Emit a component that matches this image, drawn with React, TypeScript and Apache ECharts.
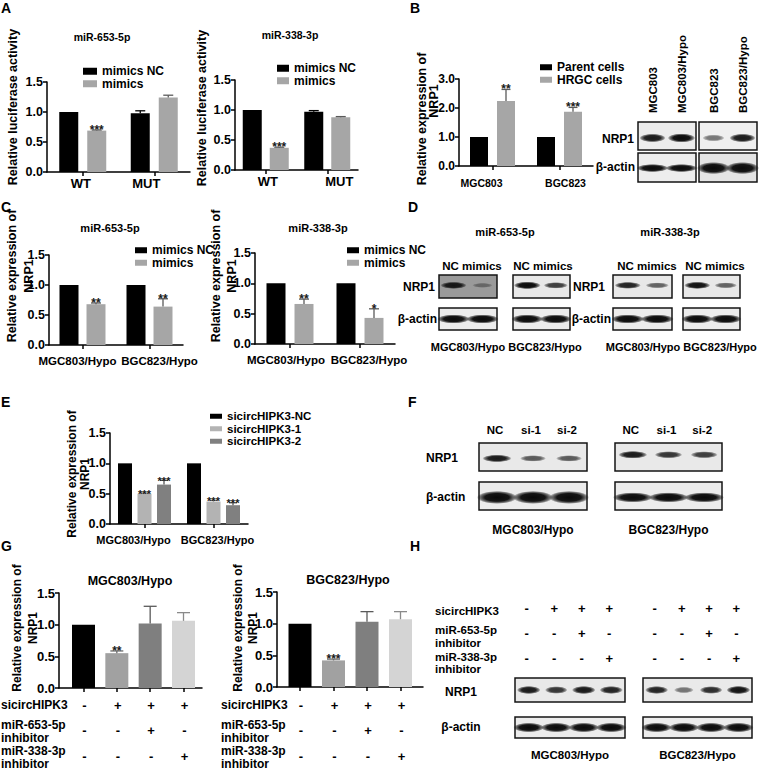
import React, { useEffect, useRef } from 'react';
import * as echarts from 'echarts';

const FONT = '"Liberation Sans", Arial, Helvetica, sans-serif';

// ================= DATA =================
// Panel A – luciferase reporter activity
const lucCategories = ['WT', 'MUT'];
const luc653NC = [1.0, 0.98];
const luc653NCErr = [0, 0.04];
const luc653NCStars = ['', ''];
const luc653Mimics = [0.69, 1.24];
const luc653MimicsErr = [0.01, 0.04];
const luc653MimicsStars = ['***', ''];
const luc338NC = [1.0, 0.97];
const luc338NCErr = [0, 0.02];
const luc338NCStars = ['', ''];
const luc338Mimics = [0.37, 0.88];
const luc338MimicsErr = [0.01, 0.01];
const luc338MimicsStars = ['***', ''];

// Panel B – NRP1 in parent vs HRGC cells
const cellCategories = ['MGC803', 'BGC823'];
const parentValues = [1.0, 1.0];
const parentErr = [0, 0];
const parentStars = ['', ''];
const hrgcValues = [2.24, 1.87];
const hrgcErr = [0.4, 0.15];
const hrgcStars = ['**', '***'];

// Panel C – NRP1 after mimics
const hypoCategories = ['MGC803/Hypo', 'BGC823/Hypo'];
const c653NC = [1.0, 1.0];
const c653NCErr = [0, 0];
const c653NCStars = ['', ''];
const c653Mimics = [0.68, 0.64];
const c653MimicsErr = [0.02, 0.13];
const c653MimicsStars = ['**', '**'];
const c338NC = [1.0, 1.0];
const c338NCErr = [0, 0];
const c338NCStars = ['', ''];
const c338Mimics = [0.66, 0.43];
const c338MimicsErr = [0.08, 0.15];
const c338MimicsStars = ['**', '*'];

// Panel E – NRP1 after sicircHIPK3
const eNC = [1.0, 1.0];
const eNCErr = [0, 0];
const eNCStars = ['', ''];
const eSi1 = [0.5, 0.37];
const eSi1Err = [0.01, 0.02];
const eSi1Stars = ['***', '***'];
const eSi2 = [0.65, 0.31];
const eSi2Err = [0.07, 0.04];
const eSi2Stars = ['***', '***'];

// Panel G – rescue
const rescueGroups = [0, 1, 2, 3];
const gMgc = [1.0, 0.55, 1.02, 1.06];
const gMgcErr = [0, 0.035, 0.27, 0.13];
const gMgcStars = ['', '**', '', ''];
const gBgc = [1.0, 0.42, 1.03, 1.07];
const gBgcErr = [0, 0.02, 0.16, 0.12];
const gBgcStars = ['', '***', '', ''];
const rowSicirc = ['-', '+', '+', '+'];
const row653Inh = ['-', '-', '+', '-'];
const row338Inh = ['-', '-', '-', '+'];

// Western blot band intensities (0..1)
const blotBLanes = ['MGC803', 'MGC803/Hypo', 'BGC823', 'BGC823/Hypo'];
const blotBNRP1 = [0.85, 1.0, 0.35, 0.85];
const blotBActin = [1, 1, 1, 1];
const blotD653NRP1 = [0.85, 0.15, 1.0, 0.65];
const blotD338NRP1 = [0.8, 0.45, 0.9, 0.45];
const blotDActin = [1, 1, 1, 1];
const blotFLanes = ['NC', 'si-1', 'si-2'];
const blotFNRP1 = [0.85, 0.5, 0.5, 0.85, 0.7, 0.65];
const blotFActin = [1, 1, 1, 1, 1, 1];
const blotHNRP1 = [0.85, 0.7, 0.85, 0.8, 0.8, 0.35, 0.75, 0.9];
const blotHActin = [1, 1, 1, 1, 1, 1, 1, 1];

// ================= STYLE =================
const BLACK = '#000000';
const GRAY = '#a6a6a6';
const GRAY_ERR = '#5a5a5a';
const SI1 = '#b3b3b3';
const SI2 = '#808080';
const G_COLORS = ['#000000', '#a1a1a1', '#7f7f7f', '#d4d4d4'];
const G_ERR = ['#000000', '#6a6a6a', '#5a5a5a', '#8a8a8a'];

type Ser = { name: string; values: number[]; errs: number[]; stars: string[]; color: any; errColor: any };
type Spec = {
  left: number; top: number; width: number; height: number;
  categories: any[]; valueX?: { min: number; max: number };
  yMax: number; yInterval: number; series: Ser[];
  barWidth: number; barGapPx: number; tickFont: number; xFont: number; xMargin: number; showX: boolean;
  labelShift?: number[];
  starFont: number; capHalf: number; starDy: number;
  legend?: { left: number; top: number; iw: number; ih: number; lh: number; fs: number };
};

const specs: Spec[] = [
  { // A left
    left: 47, top: 82, width: 143, height: 90, categories: lucCategories, yMax: 1.5, yInterval: 0.5,
    series: [
      { name: 'mimics NC', values: luc653NC, errs: luc653NCErr, stars: luc653NCStars, color: BLACK, errColor: BLACK },
      { name: 'mimics', values: luc653Mimics, errs: luc653MimicsErr, stars: luc653MimicsStars, color: GRAY, errColor: GRAY_ERR },
    ],
    barWidth: 19, barGapPx: 9, tickFont: 12.5, xFont: 13, xMargin: 5, showX: true, labelShift: [-2, -8],
    starFont: 12, capHalf: 5, starDy: 6,
    legend: { left: 83, top: 65, iw: 14, ih: 7, lh: 12.5, fs: 12 },
  },
  { // A right
    left: 235, top: 80, width: 123, height: 90, categories: lucCategories, yMax: 1.5, yInterval: 0.5,
    series: [
      { name: 'mimics NC', values: luc338NC, errs: luc338NCErr, stars: luc338NCStars, color: BLACK, errColor: BLACK },
      { name: 'mimics', values: luc338Mimics, errs: luc338MimicsErr, stars: luc338MimicsStars, color: GRAY, errColor: GRAY_ERR },
    ],
    barWidth: 19, barGapPx: 8, tickFont: 12.5, xFont: 13, xMargin: 5, showX: true, labelShift: [2, 12],
    starFont: 12, capHalf: 5, starDy: 6,
    legend: { left: 277, top: 62, iw: 12, ih: 7, lh: 12.5, fs: 12 },
  },
  { // B
    left: 459, top: 79, width: 134, height: 87, categories: cellCategories, yMax: 3, yInterval: 1,
    series: [
      { name: 'Parent cells', values: parentValues, errs: parentErr, stars: parentStars, color: BLACK, errColor: BLACK },
      { name: 'HRGC cells', values: hrgcValues, errs: hrgcErr, stars: hrgcStars, color: GRAY, errColor: GRAY_ERR },
    ],
    barWidth: 18, barGapPx: 9, tickFont: 12, xFont: 10.5, xMargin: 11, showX: true, labelShift: [-11, 6],
    starFont: 12, capHalf: 4.5, starDy: 6,
    legend: { left: 540, top: 61, iw: 12, ih: 6, lh: 12.5, fs: 12 },
  },
  { // C left
    left: 49, top: 255, width: 134, height: 90, categories: hypoCategories, yMax: 1.5, yInterval: 0.5,
    series: [
      { name: 'mimics NC', values: c653NC, errs: c653NCErr, stars: c653NCStars, color: BLACK, errColor: BLACK },
      { name: 'mimics', values: c653Mimics, errs: c653MimicsErr, stars: c653MimicsStars, color: GRAY, errColor: GRAY_ERR },
    ],
    barWidth: 19, barGapPx: 8, tickFont: 12.5, xFont: 11.5, xMargin: 10, showX: true, labelShift: [-5, 10],
    starFont: 12, capHalf: 5, starDy: 6,
    legend: { left: 135, top: 244, iw: 12, ih: 6, lh: 12.5, fs: 12 },
  },
  { // C right
    left: 255, top: 253, width: 140, height: 91, categories: hypoCategories, yMax: 1.5, yInterval: 0.5,
    series: [
      { name: 'mimics NC', values: c338NC, errs: c338NCErr, stars: c338NCStars, color: BLACK, errColor: BLACK },
      { name: 'mimics', values: c338Mimics, errs: c338MimicsErr, stars: c338MimicsStars, color: GRAY, errColor: GRAY_ERR },
    ],
    barWidth: 19, barGapPx: 9, tickFont: 12.5, xFont: 11.5, xMargin: 10, showX: true, labelShift: [-4, 9],
    starFont: 12, capHalf: 5, starDy: 6,
    legend: { left: 347, top: 244, iw: 12, ih: 6, lh: 12.5, fs: 12 },
  },
  { // E
    left: 110, top: 433, width: 138, height: 91, categories: hypoCategories, yMax: 1.5, yInterval: 0.5,
    series: [
      { name: 'sicircHIPK3-NC', values: eNC, errs: eNCErr, stars: eNCStars, color: BLACK, errColor: BLACK },
      { name: 'sicircHIPK3-1', values: eSi1, errs: eSi1Err, stars: eSi1Stars, color: SI1, errColor: '#777777' },
      { name: 'sicircHIPK3-2', values: eSi2, errs: eSi2Err, stars: eSi2Stars, color: SI2, errColor: '#555555' },
    ],
    barWidth: 14, barGapPx: 5.5, tickFont: 12.5, xFont: 11, xMargin: 10, showX: true, labelShift: [-11, 4],
    starFont: 11, capHalf: 4, starDy: 6,
    legend: { left: 210, top: 410, iw: 12, ih: 5, lh: 12.5, fs: 11.5 },
  },
  { // G left
    left: 59, top: 593, width: 143, height: 95, categories: rescueGroups, valueX: { min: -0.735, max: 3.555 },
    yMax: 1.5, yInterval: 0.5,
    series: [
      { name: 'MGC803/Hypo rescue', values: gMgc, errs: gMgcErr, stars: gMgcStars, color: G_COLORS, errColor: G_ERR },
    ],
    barWidth: 23, barGapPx: 0, tickFont: 13, xFont: 12, xMargin: 5, showX: false, starFont: 12, capHalf: 6.5, starDy: 6,
  },
  { // G right
    left: 277, top: 592, width: 146, height: 95, categories: rescueGroups, valueX: { min: -0.687, max: 3.672 },
    yMax: 1.5, yInterval: 0.5,
    series: [
      { name: 'BGC823/Hypo rescue', values: gBgc, errs: gBgcErr, stars: gBgcStars, color: G_COLORS, errColor: G_ERR },
    ],
    barWidth: 23, barGapPx: 0, tickFont: 13, xFont: 12, xMargin: 5, showX: false, starFont: 12, capHalf: 6.5, starDy: 6,
  },
];

function errorSeries(k: number, ser: Ser, offset: number, s: Spec) {
  return {
    type: 'custom',
    name: ser.name + ' SEM',
    xAxisIndex: k,
    yAxisIndex: k,
    z: 4,
    silent: true,
    data: ser.values.map((v, i) => [i, v, ser.errs[i]]),
    encode: { x: 0, y: 1 },
    renderItem: (params: any, api: any) => {
      const i = params.dataIndex;
      const v = api.value(1);
      const e = api.value(2);
      const p0 = api.coord([api.value(0), v]);
      const p1 = api.coord([api.value(0), v + e]);
      const x = p0[0] + offset;
      const col = Array.isArray(ser.errColor) ? ser.errColor[i] : ser.errColor;
      const ch: any[] = [];
      if (e > 0) {
        ch.push({ type: 'line', shape: { x1: x, y1: p0[1], x2: x, y2: p1[1] }, style: { stroke: col, lineWidth: 1.3 } });
        ch.push({ type: 'line', shape: { x1: x - s.capHalf, y1: p1[1], x2: x + s.capHalf, y2: p1[1] }, style: { stroke: col, lineWidth: 1.3 } });
      }
      const st = ser.stars[i];
      if (st) {
        ch.push({
          type: 'text', x, y: p1[1] + s.starDy,
          style: { text: st, align: 'center', verticalAlign: 'bottom', fontSize: s.starFont, fontFamily: FONT, fontWeight: 'bold', fill: '#1a1a1a' },
        });
      }
      return { type: 'group', children: ch };
    },
  };
}

function txt(text: string, x: number, y: number, size: number, align = 'center', va = 'middle', extra: any = {}) {
  return {
    type: 'text', x, y, z: 20, silent: true, ...extra,
    style: { text, fontSize: size, fontWeight: 'bold', fontFamily: FONT, fill: '#000', align, verticalAlign: va, ...(extra.style || {}) },
  };
}

function band(cx: number, cy: number, rx: number, ry: number, a: number) {
  const al = Math.min(1, 0.25 + 0.8 * a);
  return {
    type: 'ellipse', z: 21, silent: true,
    shape: { cx, cy, rx, ry },
    style: {
      fill: {
        type: 'radial', x: 0.5, y: 0.5, r: 0.5,
        colorStops: [
          { offset: 0, color: `rgba(10,10,10,${al})` },
          { offset: 0.6, color: `rgba(10,10,10,${al * 0.95})` },
          { offset: 0.85, color: `rgba(10,10,10,${al * 0.5})` },
          { offset: 1, color: 'rgba(10,10,10,0)' },
        ],
      },
    },
  };
}

function blot(els: any[], x: number, y: number, w: number, h: number, intens: number[], bg: string, bandH: number, cyFrac: number, wFrac: number) {
  els.push({ type: 'rect', z: 20, silent: true, shape: { x, y, width: w, height: h }, style: { fill: bg, stroke: '#141414', lineWidth: 1.5 } });
  const n = intens.length;
  const lw = w / n;
  intens.forEach((a, i) => {
    const cx = x + lw * (i + 0.5);
    const cy = y + h * cyFrac;
    const rx = (lw * wFrac * (0.7 + 0.3 * a)) / 2;
    const ry = (bandH * (0.6 + 0.4 * a)) / 2;
    els.push(band(cx, cy, rx, ry, a));
  });
}

function laneCenters(x: number, w: number, n: number) {
  const out: number[] = [];
  for (let i = 0; i < n; i++) out.push(x + (w / n) * (i + 0.5));
  return out;
}

function buildGraphics(): any[] {
  const els: any[] = [];
  // panel letters
  els.push(txt('A', 1, 1, 14, 'left', 'top'));
  els.push(txt('B', 410, 1, 14, 'left', 'top'));
  els.push(txt('C', 1, 200, 14, 'left', 'top'));
  els.push(txt('D', 408, 200, 14, 'left', 'top'));
  els.push(txt('E', 1, 395, 14, 'left', 'top'));
  els.push(txt('F', 408, 395, 14, 'left', 'top'));
  els.push(txt('G', 1, 539, 14, 'left', 'top'));
  els.push(txt('H', 410, 539, 14, 'left', 'top'));

  // chart titles
  els.push(txt('miR-653-5p', 102, 37, 10.5));
  els.push(txt('miR-338-3p', 290, 35, 10.5));
  els.push(txt('miR-653-5p', 110, 228, 11));
  els.push(txt('miR-338-3p', 318, 228, 11));
  els.push(txt('MGC803/Hypo', 130, 581, 12.5));
  els.push(txt('BGC823/Hypo', 348, 580, 12.5));

  // y axis names
  const rot = { rotation: Math.PI / 2 };
  els.push(txt('Relative luciferase activity', 13, 107, 12.5, 'center', 'middle', rot));
  els.push(txt('Relative luciferase activity', 202, 108, 12.5, 'center', 'middle', rot));
  els.push(txt('Relative expression of', 422, 119, 12.5, 'center', 'middle', rot));
  els.push(txt('NRP1', 434, 101, 12.5, 'center', 'middle', rot));
  els.push(txt('Relative expression of\nNRP1', 20, 276, 12.5, 'center', 'middle', { ...rot, style: { lineHeight: 17 } }));
  els.push(txt('Relative expression of\nNRP1', 224, 276, 12.5, 'center', 'middle', { ...rot, style: { lineHeight: 16 } }));
  els.push(txt('Relative expression of\nNRP1', 78, 474, 12, 'center', 'middle', { ...rot, style: { lineHeight: 13 } }));
  els.push(txt('Relative expression of\nNRP1', 25, 628, 12, 'center', 'middle', { ...rot, style: { lineHeight: 16 } }));
  els.push(txt('Relative expression of\nNRP1', 245, 628, 12, 'center', 'middle', { ...rot, style: { lineHeight: 15 } }));

  // ---- Panel B blots
  const bl = laneCenters(638, 58, 2).concat(laneCenters(699, 58, 2));
  blotBLanes.forEach((l, i) => els.push(txt(l, bl[i], 113, 11.5, 'left', 'middle', rot)));
  blot(els, 638, 122, 58, 28, blotBNRP1.slice(0, 2), '#ececec', 9, 0.57, 0.95);
  blot(els, 699, 122, 58, 28, blotBNRP1.slice(2, 4), '#efefef', 9, 0.57, 0.95);
  blot(els, 638, 153, 58, 29, blotBActin.slice(0, 2), '#ededed', 8, 0.52, 1.1);
  blot(els, 699, 153, 58, 29, blotBActin.slice(2, 4), '#e4e4e4', 12, 0.52, 1.15);
  els.push(txt('NRP1', 634, 139, 12, 'right'));
  els.push(txt('β-actin', 635, 167, 12, 'right'));

  // ---- Panel D blots
  els.push(txt('miR-653-5p', 505, 232, 11));
  els.push(txt('miR-338-3p', 670, 232, 11));
  const dBoxes = [[439, 58], [513, 57], [613, 59], [683, 57]];
  const dNRP1 = [blotD653NRP1.slice(0, 2), blotD653NRP1.slice(2, 4), blotD338NRP1.slice(0, 2), blotD338NRP1.slice(2, 4)];
  const dLabels = ['MGC803/Hypo', 'BGC823/Hypo', 'MGC803/Hypo', 'BGC823/Hypo'];
  const dLabelX = [468, 545, 643, 720];
  const dHeadX = [472, 543, 647, 715];
  dBoxes.forEach(([x, w], i) => {
    els.push(txt('NC mimics', dHeadX[i], 266, 11.5));
    blot(els, x, 275, w, 23, dNRP1[i], i === 0 ? '#9a9a9a' : '#e8e8e8', 7.5, 0.45, 0.95);
    blot(els, x, 308, w, 22, blotDActin.slice(i % 2 * 2, i % 2 * 2 + 2), '#ececec', 9, 0.5, 1.12);
    els.push(txt(dLabels[i], dLabelX[i], 347, 11));
  });
  els.push(txt('NRP1', 435, 287, 12, 'right'));
  els.push(txt('NRP1', 605, 287, 12, 'right'));
  els.push(txt('β-actin', 437, 319, 12, 'right'));
  els.push(txt('β-actin', 611, 319, 12, 'right'));

  // ---- Panel F blots
  const fBoxes = [[479, 108], [615, 107]];
  const fLabels = ['MGC803/Hypo', 'BGC823/Hypo'];
  fBoxes.forEach(([x, w], b) => {
    laneCenters(x, w, 3).forEach((cx, i) => els.push(txt(blotFLanes[i], cx - 2, 430, 11.5)));
    blot(els, x, 443, w, 28, blotFNRP1.slice(b * 3, b * 3 + 3), '#e9e9e9', 8, b === 0 ? 0.55 : 0.42, 0.85);
    blot(els, x, 482, w, 28, blotFActin.slice(b * 3, b * 3 + 3), '#ececec', b === 0 ? 13 : 10, 0.55, 1.12);
    els.push(txt(fLabels[b], x + w / 2, 530, 12));
  });
  els.push(txt('NRP1', 426, 458, 12, 'left'));
  els.push(txt('β-actin', 426, 497, 12, 'left'));

  // ---- Panel G tables
  [specs[6], specs[7]].forEach((s, g) => {
    const lx = g === 0 ? 1 : 221;
    els.push(txt('sicircHIPK3', lx, 705, 12, 'left'));
    els.push(txt('miR-653-5p\ninhibitor', lx, 731, 12, 'left', 'middle', { style: { lineHeight: 13 } }));
    els.push(txt('miR-338-3p\ninhibitor', lx, 757, 12, 'left', 'middle', { style: { lineHeight: 13 } }));
    const vx = s.valueX!;
    rescueGroups.forEach((grp, i) => {
      const cx = s.left + ((grp - vx.min) / (vx.max - vx.min)) * s.width + 1;
      els.push(txt(rowSicirc[i], cx, 705, 13));
      els.push(txt(row653Inh[i], cx, 730, 13));
      els.push(txt(row338Inh[i], cx, 756, 13));
    });
  });

  // ---- Panel H table + blots
  els.push(txt('sicircHIPK3', 435, 611, 11.5, 'left'));
  els.push(txt('miR-653-5p\ninhibitor', 435, 636.5, 11.5, 'left', 'middle', { style: { lineHeight: 13 } }));
  els.push(txt('miR-338-3p\ninhibitor', 435, 663, 11.5, 'left', 'middle', { style: { lineHeight: 12.5 } }));
  const hBoxes = [[515, 110], [643, 109]];
  hBoxes.forEach(([x, w], b) => {
    laneCenters(x, w, 4).forEach((cx, i) => {
      els.push(txt(rowSicirc[i], cx - 2, 608, 13));
      els.push(txt(row653Inh[i], cx - 2, 633, 13));
      els.push(txt(row338Inh[i], cx - 2, 658, 13));
    });
    blot(els, x, 678, w, 24, blotHNRP1.slice(b * 4, b * 4 + 4), '#e9e9e9', 8.5, 0.5, 0.9);
    blot(els, x, 717, w, 21, blotHActin.slice(b * 4, b * 4 + 4), '#ececec', 9.5, 0.5, 1.12);
    els.push(txt(fLabels[b], x + w / 2, 755, 11.5));
  });
  els.push(txt('NRP1', 461, 692, 12));
  els.push(txt('β-actin', 461, 727, 12));
  return els;
}

function labelRich(s: Spec) {
  const rich: any = {};
  s.categories.forEach((_c, i) => {
    const d = s.labelShift ? s.labelShift[i] : 0;
    rich['s' + i] = {
      fontSize: s.xFont, fontWeight: 'bold', fontFamily: FONT, color: '#000',
      padding: [0, d < 0 ? -2 * d : 0, 0, d > 0 ? 2 * d : 0],
    };
  });
  return rich;
}

function buildOption() {
  const grid: any[] = [], xAxis: any[] = [], yAxis: any[] = [], series: any[] = [], legend: any[] = [];
  const axisLine = { show: true, onZero: false, lineStyle: { color: '#000', width: 1.5 } };
  specs.forEach((s, k) => {
    grid.push({ left: s.left, top: s.top, width: s.width, height: s.height, containLabel: false });
    if (s.valueX) {
      xAxis.push({
        type: 'value', gridIndex: k, min: s.valueX.min, max: s.valueX.max,
        axisLine, axisTick: { show: true, length: 4, customValues: s.categories, lineStyle: { color: '#000', width: 1.5 } },
        axisLabel: { show: false }, splitLine: { show: false },
      });
    } else {
      xAxis.push({
        type: 'category', gridIndex: k, data: s.categories,
        axisLine, axisTick: { show: true, alignWithLabel: true, length: 4, lineStyle: { color: '#000', width: 1.5 } },
        axisLabel: {
          show: s.showX, interval: 0, fontSize: s.xFont, fontWeight: 'bold', fontFamily: FONT, color: '#000', margin: s.xMargin,
          formatter: (val: string, idx: number) => `{s${idx}|${val}}`,
          rich: labelRich(s),
        },
        splitLine: { show: false },
      });
    }
    yAxis.push({
      type: 'value', gridIndex: k, min: 0, max: s.yMax, interval: s.yInterval,
      axisLine, axisTick: { show: true, length: 4, lineStyle: { color: '#000', width: 1.5 } },
      axisLabel: { fontSize: s.tickFont, fontWeight: 'bold', fontFamily: FONT, color: '#000', margin: 4, formatter: (v: number) => v.toFixed(1) },
      splitLine: { show: false },
    });
    const n = s.series.length;
    s.series.forEach((ser, j) => {
      const perItem = Array.isArray(ser.color);
      series.push({
        type: 'bar', name: ser.name, xAxisIndex: k, yAxisIndex: k, barWidth: s.barWidth,
        barGap: `${(s.barGapPx / s.barWidth) * 100}%`,
        itemStyle: perItem ? {} : { color: ser.color },
        data: ser.values.map((v, i) => (s.valueX ? { value: [s.categories[i], v], itemStyle: { color: ser.color[i] } } : v)),
        z: 2, silent: true,
      });
      const offset = (j - (n - 1) / 2) * (s.barWidth + s.barGapPx);
      series.push(errorSeries(k, ser, offset, s));
    });
    if (s.legend) {
      const L = s.legend;
      legend.push({
        orient: 'vertical', left: L.left, top: L.top, itemWidth: L.iw, itemHeight: L.ih, itemGap: 0, padding: 0,
        icon: 'rect', selectedMode: false, data: s.series.map((x) => x.name),
        textStyle: { fontSize: L.fs, fontWeight: 'bold', fontFamily: FONT, color: '#000', lineHeight: L.lh },
      });
    }
  });
  return { animation: false, grid, xAxis, yAxis, series, legend, graphic: { elements: buildGraphics() } };
}

export default function App() {
  const ref = useRef<HTMLDivElement>(null);
  useEffect(() => {
    const chart = echarts.init(ref.current!, null, { renderer: 'svg' });
    chart.setOption(buildOption());
    return () => chart.dispose();
  }, []);
  return <div ref={ref} style={{ position: 'absolute', left: 0, top: 0, width: 760, height: 773, background: '#fff' }} />;
}
